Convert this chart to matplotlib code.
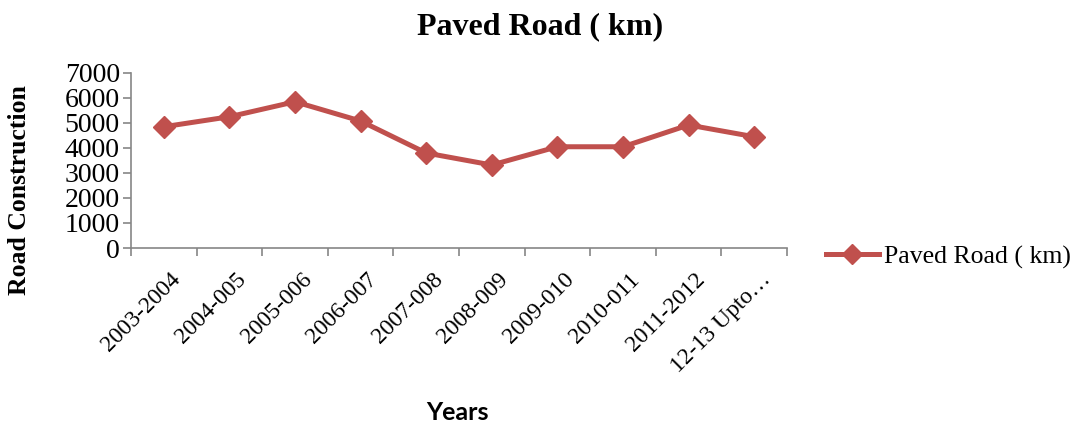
import matplotlib.pyplot as plt
import matplotlib.transforms as mtransforms
import numpy as np

years = ['2003-2004', '2004-005', '2005-006', '2006-007', '2007-008',
         '2008-009', '2009-010', '2010-011', '2011-2012', '12-13 Upto…']
paved_km = [4850, 5250, 5850, 5080, 3800, 3320, 4050, 4050, 4920, 4450]
y_ticks = [0, 1000, 2000, 3000, 4000, 5000, 6000, 7000]

serif = 'Liberation Serif'
red = '#C0504D'
grey = '#868686'

fig = plt.figure(figsize=(10.82, 4.29), dpi=100)
ax = fig.add_axes([131 / 1082, 1 - 248 / 429, 656 / 1082, 175 / 429])

x = np.arange(len(years))
ax.plot(x, paved_km, color=red, linewidth=3.6, marker='D', markersize=11.5,
        label='Paved Road ( km)')

ax.set_xlim(-0.5, len(years) - 0.5)
ax.set_ylim(0, 7000)
ax.set_yticks(y_ticks)
ax.set_yticklabels([str(v) for v in y_ticks], fontfamily=serif, fontsize=20)

# category boundaries get tick marks, labels sit at the centres
ax.set_xticks(np.arange(-0.5, len(years), 1.0))
ax.set_xticklabels([])
ax.set_xticks(x, minor=True)
ax.set_xticklabels(years, minor=True, rotation=45, ha='right',
                   rotation_mode='anchor', fontfamily=serif, fontsize=17)
ax.tick_params(axis='x', which='minor', length=0, pad=15)
ax.tick_params(axis='x', which='major', length=6, color=grey, width=1.2)
ax.tick_params(axis='y', length=6, color=grey, width=1.2, pad=2)
shift = mtransforms.ScaledTranslation(6 / 100, 0, fig.dpi_scale_trans)
for lab in ax.get_xticklabels(minor=True):
    lab.set_transform(lab.get_transform() + shift)

for side in ['top', 'right']:
    ax.spines[side].set_visible(False)
for side in ['left', 'bottom']:
    ax.spines[side].set_color(grey)
    ax.spines[side].set_linewidth(1.2)

fig.text(540 / 1082, 1 - 27 / 429, 'Paved Road ( km)', ha='center', va='center',
         fontfamily=serif, fontweight='bold', fontsize=23)
fig.text(20 / 1082, 1 - 190 / 429, 'Road Construction', ha='center', va='center',
         rotation=90, fontfamily=serif, fontweight='bold', fontsize=18.5)
fig.text(457 / 1082, 1 - 412 / 429, 'Years', ha='center', va='center',
         fontfamily='Lato', fontweight='bold', fontsize=18)

leg = fig.legend(loc='center left', bbox_to_anchor=(826 / 1082, 1 - 257 / 429),
                 frameon=False, borderpad=0, borderaxespad=0,
                 handlelength=2.05, handletextpad=0.2, markerscale=0.9,
                 prop={'family': serif, 'size': 18.5})

fig.savefig('out.png', dpi=100, facecolor='w')
